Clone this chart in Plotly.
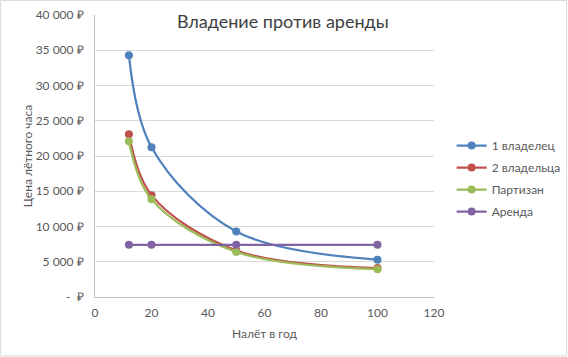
import plotly.graph_objects as go

x_vals = [12, 20, 50, 100]
owner1 = [34300, 21250, 9300, 5300]
owners2 = [23100, 14450, 6600, 4100]
partizan = [22100, 13850, 6400, 3950]
rent = [7400, 7400, 7400, 7400]

series_names = ["1 владелец", "2 владельца", "Партизан", "Аренда"]
series_colors = ["#4F81BD", "#C0504D", "#9BBB59", "#8064A2"]
series_values = [owner1, owners2, partizan, rent]

y_ticks = [0, 5000, 10000, 15000, 20000, 25000, 30000, 35000, 40000]
y_labels = ["-  ₽", "5 000 ₽", "10 000 ₽", "15 000 ₽", "20 000 ₽",
            "25 000 ₽", "30 000 ₽", "35 000 ₽", "40 000 ₽"]
x_ticks = [0, 20, 40, 60, 80, 100, 120]

fig = go.Figure()
for name, color, vals in zip(series_names, series_colors, series_values):
    fig.add_trace(go.Scatter(
        x=x_vals, y=vals, name=name, mode="lines+markers", legendgroup=name,
        line=dict(color=color, width=2.25, shape="spline", smoothing=1.0),
        marker=dict(color=color, size=8),
    ))

font_fam = "Lato, Open Sans, sans-serif"
fig.update_layout(
    width=568, height=357,
    margin=dict(l=95, r=134, t=15, b=60, autoexpand=False),
    paper_bgcolor="white", plot_bgcolor="white",
    font=dict(family=font_fam, color="#595959", size=12),
    title=dict(text="Владение против аренды", x=0.498, xanchor="center",
               y=1 - 22 / 357, yanchor="middle",
               font=dict(size=18, color="#404040", family=font_fam)),
    legend=dict(x=1.052, y=0.42, xanchor="left", yanchor="middle",
                font=dict(size=12, color="#595959"), itemwidth=30,
                tracegroupgap=3),
    showlegend=True,
)
fig.update_xaxes(range=[0, 120], tickvals=x_ticks, showgrid=False,
                 showline=True, linecolor="#bfbfbf", linewidth=1,
                 zeroline=False, ticks="", tickfont=dict(size=12),
                 automargin=False, ticklabelstandoff=5,
                 title=dict(text="Налёт в год", font=dict(size=12), standoff=10))
fig.update_yaxes(range=[0, 40000], tickvals=y_ticks, ticktext=y_labels,
                 showgrid=True, gridcolor="#d9d9d9", gridwidth=1,
                 showline=True, linecolor="#bfbfbf", linewidth=1,
                 zeroline=False, ticks="", tickfont=dict(size=12),
                 automargin=False, ticklabelstandoff=8,
                 title=dict(text="Цена лётного часа", font=dict(size=12), standoff=0))

fig.add_shape(type="rect", xref="paper", yref="paper",
              x0=-95 / 339 + 0.002, x1=1 + 134 / 339 - 0.004,
              y0=-60 / 282 + 0.004, y1=1 + 15 / 282 - 0.002,
              line=dict(color="#d9d9d9", width=1), fillcolor="rgba(0,0,0,0)",
              layer="below")

fig.write_html("out.html", config={"displayModeBar": False},
               post_script="document.body.style.margin='0';document.body.style.padding='0';")
